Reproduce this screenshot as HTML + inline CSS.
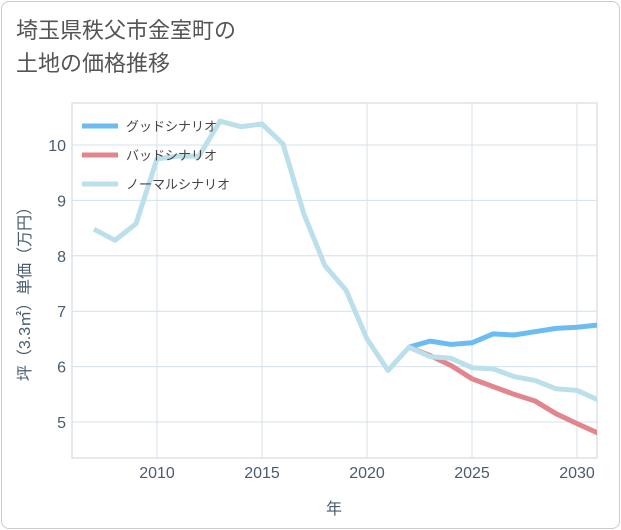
<!DOCTYPE html>
<html><head><meta charset="utf-8">
<style>
body{margin:0;background:#fff;font-family:"Liberation Sans","Noto Sans CJK JP",sans-serif;}
.card{position:absolute;left:1px;top:1px;width:617px;height:526px;border:1px solid #ccc;border-radius:8px;background:#fff;}
.title{position:absolute;left:16px;top:14px;font-size:22px;line-height:33px;color:#555;font-family:"Liberation Sans","Noto Sans CJK JP",sans-serif;}
</style></head><body>
<div class="card"></div>
<div class="title">埼玉県秩父市金室町の<br>土地の価格推移</div>
<svg id="chart" width="621" height="530" style="position:absolute;left:0;top:0"></svg>
<script>
const years=[2007,2008,2009,2010,2011,2012,2013,2014,2015,2016,2017,2018,2019,2020,2021,2022,2023,2024,2025,2026,2027,2028,2029,2030,2031];
const normalVals=[8.48,8.28,8.58,9.75,9.8,9.8,10.43,10.33,10.38,10.02,8.75,7.82,7.38,6.5,5.93,6.35,6.18,6.15,5.98,5.96,5.82,5.75,5.6,5.57,5.4];
const futureYears=[2022,2023,2024,2025,2026,2027,2028,2029,2030,2031];
const goodVals=[6.35,6.46,6.40,6.43,6.59,6.57,6.63,6.69,6.71,6.75];
const badVals=[6.35,6.2,6.02,5.78,5.64,5.5,5.38,5.15,4.97,4.8];
const xTicks=[2010,2015,2020,2025,2030];
const yTicks=[5,6,7,8,9,10];
const legendLabels=["グッドシナリオ","バッドシナリオ","ノーマルシナリオ"];
const NS="http://www.w3.org/2000/svg";
const svg=document.getElementById('chart');
const L=72,R=597,T=103,B=458;
const TC='#4b5b6e';
const x=v=>157+(v-2010)*21;
const y=v=>422-(v-5)*55.4;
function mk(t,a){const e=document.createElementNS(NS,t);for(const k in a)e.setAttribute(k,a[k]);svg.appendChild(e);return e;}
const bg=mk('rect',{x:L,y:T,width:R-L,height:B-T,fill:'#fff',stroke:'#ccd6dd'});


xTicks.forEach(t=>{
  const g=mk('line',{x1:x(t),x2:x(t),y1:T,y2:B,stroke:'#d5e0e8'});
  
  
  const tx=mk('text',{x:x(t),y:478,'text-anchor':'middle','font-size':16,fill:TC});
  tx.textContent=t;
  
  
});
yTicks.forEach(t=>{
  const g=mk('line',{x1:L,x2:R,y1:y(t),y2:y(t),stroke:'#d5e0e8'});
  
  
  const tx=mk('text',{x:66,y:y(t)+6,'text-anchor':'end','font-size':16,fill:TC});
  tx.textContent=t;
  
  
});
const xt=mk('text',{x:334,y:514,'text-anchor':'middle','font-size':16,fill:TC});
xt.textContent='年';


const yt=mk('text',{x:0,y:0,'text-anchor':'middle','font-size':16,fill:TC,transform:'translate(30,290) rotate(-90)'});
yt.textContent='坪（3.3㎡）単価（万円）';


const clip=mk('clipPath',{id:'c'});
const cr=document.createElementNS(NS,'rect');cr.setAttribute('x',L);cr.setAttribute('y',T);cr.setAttribute('width',R-L);cr.setAttribute('height',B-T);clip.appendChild(cr);
function line(xs,vs,color,name){
  const p=mk('polyline',{points:xs.map((v,i)=>x(v)+','+y(vs[i])).join(' '),fill:'none',stroke:color,'stroke-width':5,'stroke-linejoin':'round','clip-path':'url(#c)'});
  
  
}
line(futureYears,goodVals,'#6bbcf2','good-scenario-line');
line(futureYears,badVals,'#e0868c','bad-scenario-line');
line(years,normalVals,'#bcdfec','normal-scenario-line');
const lc=['#6bbcf2','#e0868c','#bcdfec'];
legendLabels.forEach((lab,i)=>{
  const yy=126+i*29;
  const l=mk('line',{x1:82,x2:118,y1:yy,y2:yy,stroke:lc[i],'stroke-width':5});
  
  
  const t=mk('text',{x:126,y:yy+5,'font-size':13,fill:'#444'});
  t.textContent=lab;
  
  
});
</script>
</body></html>
